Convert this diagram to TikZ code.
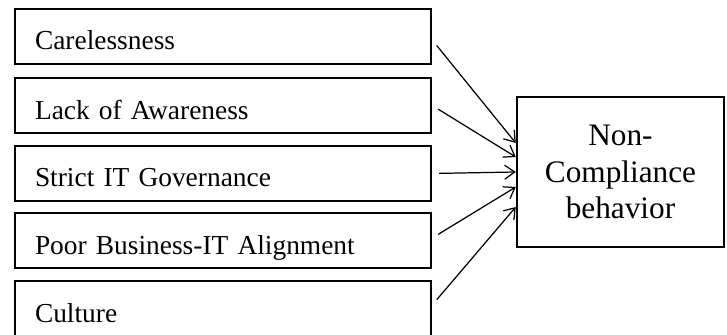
\documentclass[tikz,border=0pt]{standalone}
\usepackage{fontspec}
\setmainfont{Liberation Serif}
\newfontfamily\factorfont[WordSpace=0.6]{Liberation Serif}
\usetikzlibrary{arrows.meta}

\begin{document}
\begin{tikzpicture}[
    factor/.style={draw, line width=1.4pt, text width=7.52cm, inner xsep=0.4cm,
      minimum height=1.1cm, text height=0.6cm, text depth=0.06cm, align=left,
      font=\factorfont\fontsize{15.6}{18}\selectfont},
    outcome/.style={draw, line width=1.4pt, minimum width=4.14cm,
      minimum height=3cm, align=center, font=\fontsize{17.8}{20.8}\selectfont},
    link/.style={-{Straight Barb[length=0.2cm,width=0.28cm]}, line width=0.7pt,
      shorten <=0.14cm}]
    \useasboundingbox (0,0) rectangle (14.54,-6.7);
    \node[factor] (careless) at (4.46, -0.73) {Carelessness};
    \node[factor] (aware) at (4.46, -2.11) {Lack of Awareness};
    \node[factor] (govern) at (4.46, -3.47) {Strict IT Governance};
    \node[factor] (align) at (4.46, -4.81) {Poor Business-IT Alignment};
    \node[factor] (culture) at (4.46, -6.17) {Culture};
    \node[outcome] (noncomp) at (12.41, -3.44)
      {Non-\\Compliance\\behavior};
    \draw[link] ([yshift=-0.07cm]careless.east) -- ([yshift=0.58cm]noncomp.west);
    \draw[link] (aware.east) -- ([yshift=0.3cm]noncomp.west);
    \draw[link] (govern.east) -- (noncomp.west);
    \draw[link] ([yshift=0.05cm]align.east) -- ([yshift=-0.3cm]noncomp.west);
    \draw[link] ([yshift=0.07cm]culture.east) -- ([yshift=-0.7cm]noncomp.west);
  \end{tikzpicture}
\end{document}
